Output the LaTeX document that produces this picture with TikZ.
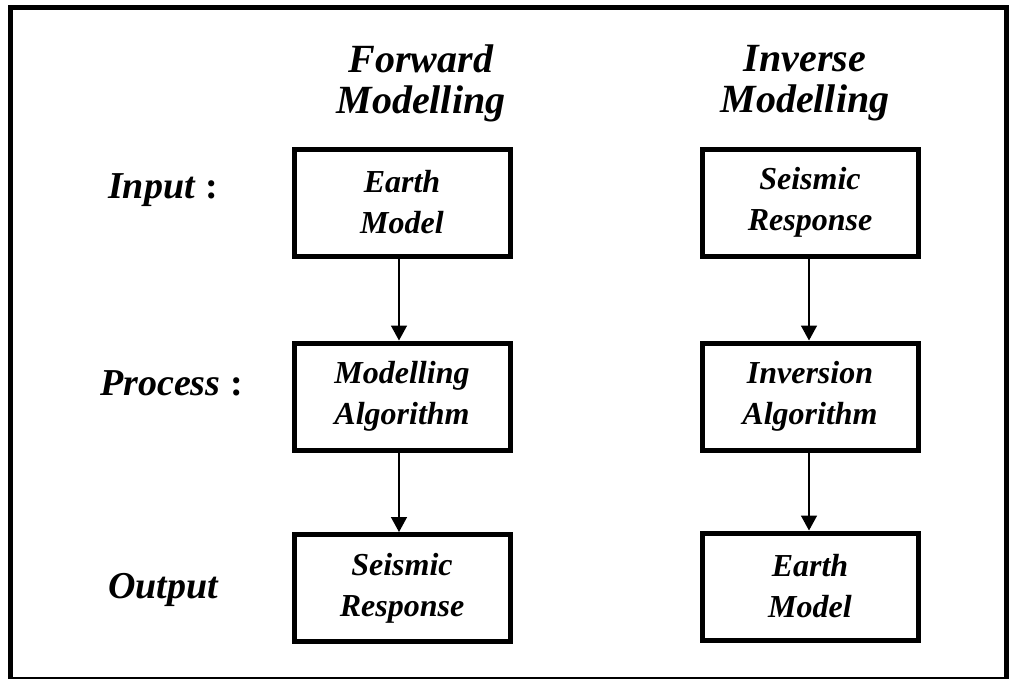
\documentclass[tikz,border=0pt]{standalone}
\usepackage{fontspec}
\setmainfont{Liberation Serif}
\usetikzlibrary{arrows.meta}
\tikzset{
  stagebox/.style={draw, line width=5pt, rectangle, minimum width=216pt, minimum height=107pt,
    inner sep=0pt, align=center, font=\fontsize{32}{41}\selectfont\bfseries\itshape},
  heading/.style={align=center, inner sep=0pt, font=\fontsize{40}{41}\selectfont\bfseries\itshape},
  rowlabel/.style={anchor=base west, inner sep=0pt, font=\fontsize{38}{41}\selectfont\bfseries},
  flow/.style={line width=1.5pt, -{Triangle[length=15pt,width=16pt]}}
}
\begin{document}
\begin{tikzpicture}[x=1pt,y=-1pt]
\useasboundingbox (0,0) rectangle (1016,678);
% outer frame
\draw[line width=5pt] (10.5,7.5) rectangle (1006,679.5);

% column headings
\node[heading] (hfwd) at (421,83) {Forward\\Modelling};
\node[heading] (hinv) at (805,83) {Inverse\\Modelling};

% row labels
\node[rowlabel] (lin)  at (108,198) {\textit{Input} :};
\node[rowlabel] (lpr)  at (100,395) {\textit{Process} :};
\node[rowlabel] (lout) at (108,598) {\textit{Output}};

% forward modelling chain
\node[stagebox] (f1) at (402,202.5) {Earth\\Model};
\node[stagebox] (f2) at (402,396.5) {Modelling\\Algorithm};
\node[stagebox] (f3) at (402,588) {Seismic\\Response};

% inverse modelling chain
\node[stagebox] (i1) at (810,202.5) {Seismic\\Response};
\node[stagebox] (i2) at (810,396.5) {Inversion\\Algorithm};
\node[stagebox] (i3) at (810,586.5) {Earth\\Model};

% connectors
\draw[flow] ([xshift=-3pt]f1.south) -- ([xshift=-3pt]f2.north);
\draw[flow] ([xshift=-3pt]f2.south) -- ([xshift=-3pt]f3.north);
\draw[flow] ([xshift=-1pt]i1.south) -- ([xshift=-1pt]i2.north);
\draw[flow] ([xshift=-1pt]i2.south) -- ([xshift=-1pt]i3.north);
\end{tikzpicture}
\end{document}
